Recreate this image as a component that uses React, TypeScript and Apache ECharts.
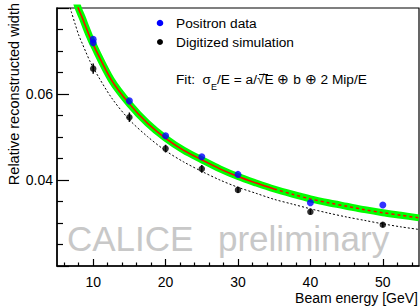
import React, { useEffect, useRef } from "react";
import * as echarts from "echarts";

// Positron data (blue)
const positronE = [10, 10, 15, 20, 25, 30, 40, 50];
const positronW = [0.0727, 0.0719, 0.0584, 0.0503, 0.0454, 0.0413, 0.0347, 0.0342];

// Digitized simulation (black) with errors
const simE = [10, 15, 20, 25, 30, 40, 50];
const simW = [0.0659, 0.0546, 0.0473, 0.0426, 0.0377, 0.0326, 0.0296];
const simErr = [0.0012, 0.0011, 0.0009, 0.0009, 0.0007, 0.0006, 0.0006];

// Fit to positron data (red line, green band)
const fitE = [7.5, 8, 8.5, 9, 9.5, 10, 12.5, 15, 17.5, 20, 22.5, 25, 27.5, 30, 32.5, 35, 37.5, 40, 42.5, 45, 47.5, 50, 52.5, 55];
const fitW = [0.0822, 0.0797, 0.0777, 0.0755, 0.0734, 0.0715, 0.0633, 0.0577, 0.0532, 0.0497, 0.0469, 0.0447, 0.0426, 0.0408, 0.0393, 0.0379, 0.0367, 0.0356, 0.0347, 0.0339, 0.0331, 0.0324, 0.0318, 0.0312];
const solidUntil = 35;

// Fit to simulation (black dashed)
const simFitE = [6.5, 7, 7.5, 8, 8.5, 9, 9.5, 10, 12.5, 15, 17.5, 20, 22.5, 25, 27.5, 30, 32.5, 35, 37.5, 40, 42.5, 45, 47.5, 50, 52.5, 55];
const simFitW = [0.0819, 0.079, 0.0763, 0.0737, 0.0717, 0.0697, 0.0678, 0.0661, 0.0592, 0.054, 0.0501, 0.0468, 0.0442, 0.042, 0.04, 0.0383, 0.0369, 0.0355, 0.0344, 0.0333, 0.0323, 0.0314, 0.0306, 0.0298, 0.0291, 0.0285];

// Axis ticks
const xMajor = [10, 20, 30, 40, 50];
const xMinor = [6, 8, 12, 14, 16, 18, 22, 24, 26, 28, 32, 34, 36, 38, 42, 44, 46, 48, 52, 54];
const yLabels = [0.04, 0.06];

const FONT = "Liberation Sans";

export default function App() {
  const ref = useRef<HTMLDivElement>(null);
  useEffect(() => {
    if (!ref.current) return;
    const chart = echarts.init(ref.current, undefined, { renderer: "svg" });
    const fitPairs = fitE.map((e, i) => [e, fitW[i]]);
    const solid = fitPairs.filter((p) => p[0] <= solidUntil);
    const dashed = fitPairs.filter((p) => p[0] >= solidUntil);
    const option: any = {
      animation: false,
      backgroundColor: "#fff",
      textStyle: { fontFamily: FONT },
      grid: {
        left: 57,
        top: 8,
        right: 1,
        bottom: 40,
        show: true,
        borderColor: "#000",
        borderWidth: 1.2,
        backgroundColor: "transparent",
      },
      xAxis: [
        {
          type: "value",
          min: 5,
          max: 55,
          position: "bottom",
          axisLine: { show: true, lineStyle: { color: "#000", width: 1.5 } },
          axisTick: { show: true, inside: true, length: 7, customValues: xMajor, lineStyle: { color: "#000", width: 1.2 } },
          axisLabel: { show: true, customValues: xMajor, fontSize: 14, color: "#000", margin: 9, fontFamily: FONT },
          splitLine: { show: false },
        },
        {
          type: "value",
          min: 5,
          max: 55,
          position: "bottom",
          axisLine: { show: false },
          axisTick: { show: true, inside: true, length: 3.5, customValues: xMinor, lineStyle: { color: "#000", width: 1.2 } },
          axisLabel: { show: false },
          splitLine: { show: false },
        },
      ],
      yAxis: [
        {
          type: "value",
          min: 0.02,
          max: 0.08,
          interval: 0.02,
          axisLine: { show: true, lineStyle: { color: "#000", width: 1.5 } },
          axisTick: { show: true, inside: true, length: 12, lineStyle: { color: "#000", width: 1.2 } },
          minorTick: { show: true, splitNumber: 4, length: 6, lineStyle: { color: "#000", width: 1.2 } },
          axisLabel: {
            show: true,
            fontSize: 14,
            color: "#000",
            margin: 4,
            fontFamily: FONT,
            formatter: (v: number) => (yLabels.some((l) => Math.abs(l - v) < 1e-9) ? v.toFixed(2) : ""),
          },
          splitLine: { show: false },
          minorSplitLine: { show: false },
        },
      ],
      graphic: [
        { type: "text", x: 67, y: 238, style: { text: "CALICE", fontSize: 35, fontFamily: FONT, fill: "#c8c8c8", verticalAlign: "middle" } },
        { type: "text", x: 218, y: 238, style: { text: "preliminary", fontSize: 35, fontFamily: FONT, fill: "#c8c8c8", verticalAlign: "middle" } },
        {
          type: "text",
          x: 14,
          y: 3,
          rotation: Math.PI / 2,
          style: { text: "Relative reconstructed width", fontSize: 14.5, fontFamily: FONT, fill: "#000", align: "right", verticalAlign: "middle" },
        },
        {
          type: "text",
          x: 418,
          y: 298,
          style: { text: "Beam energy [GeV]", fontSize: 14, fontFamily: FONT, fill: "#000", align: "right", verticalAlign: "middle" },
        },
        { type: "circle", shape: { cx: 160, cy: 23, r: 3.3 }, style: { fill: "#0000ff" }, z: 10 },
        { type: "text", x: 176, y: 23, style: { text: "Positron data", fontSize: 13.7, fontFamily: FONT, fill: "#000", verticalAlign: "middle" }, z: 10 },
        { type: "circle", shape: { cx: 160, cy: 42, r: 3 }, style: { fill: "#000" }, z: 10 },
        { type: "text", x: 176, y: 42, style: { text: "Digitized simulation", fontSize: 13.7, fontFamily: FONT, fill: "#000", verticalAlign: "middle" }, z: 10 },
        {
          type: "text",
          x: 176,
          y: 72,
          z: 10,
          style: {
            text: "{n|Fit:  σ}{s|E}{n|/E = a/√E ⊕ b ⊕ 2 Mip/E}",
            fontFamily: FONT,
            fill: "#000",
            verticalAlign: "top",
            rich: {
              n: { fontSize: 13.7, lineHeight: 16, verticalAlign: "top", fontFamily: FONT },
              s: { fontSize: 9, lineHeight: 12, padding: [10, 0, 0, 0], verticalAlign: "top", fontFamily: FONT },
            },
          },
        },
        { type: "line", shape: { x1: 259, y1: 74.5, x2: 268, y2: 74.5 }, style: { stroke: "#000", lineWidth: 1 }, z: 10 },
      ],
      series: [
        {
          type: "line",
          name: "band",
          data: fitPairs,
          smooth: 0.3,
          symbol: "none",
          clip: true,
          lineStyle: { color: "#00ff00", width: 7 },
          z: 2,
        },
        {
          type: "line",
          name: "fit solid",
          data: solid,
          smooth: 0.3,
          symbol: "none",
          clip: true,
          lineStyle: { color: "#ff0000", width: 1.5 },
          z: 3,
        },
        {
          type: "line",
          name: "fit dashed",
          data: dashed,
          smooth: 0.3,
          symbol: "none",
          clip: true,
          lineStyle: { color: "#ff0000", width: 1.5, type: [3, 3] },
          z: 3,
        },
        {
          type: "line",
          name: "sim fit",
          data: simFitE.map((e, i) => [e, simFitW[i]]),
          smooth: 0.3,
          symbol: "none",
          clip: true,
          lineStyle: { color: "#000", width: 1, type: [2, 2] },
          z: 3,
        },
        {
          type: "custom",
          name: "sim errors",
          data: simE.map((e, i) => [e, simW[i], simErr[i]]),
          encode: { x: 0, y: 1 },
          renderItem: (params: any, api: any) => {
            const x = api.value(0);
            const y = api.value(1);
            const err = api.value(2);
            const t = api.coord([x, y + err]);
            const b = api.coord([x, y - err]);
            return {
              type: "line",
              shape: { x1: t[0], y1: t[1], x2: b[0], y2: b[1] },
              style: { stroke: "#000", lineWidth: 1.5 },
            };
          },
          z: 4,
        },
        {
          type: "scatter",
          name: "Digitized simulation",
          data: simE.map((e, i) => [e, simW[i]]),
          symbol: "circle",
          symbolSize: 6.5,
          itemStyle: { color: "#000" },
          z: 5,
        },
        {
          type: "scatter",
          name: "Positron data",
          data: positronE.map((e, i) => [e, positronW[i]]),
          symbol: "circle",
          symbolSize: 7,
          itemStyle: { color: "#0000ff" },
          z: 6,
        },
      ],
    };
    chart.setOption(option);
    return () => chart.dispose();
  }, []);
  return <div ref={ref} style={{ position: "absolute", left: 0, top: 0, width: 420, height: 306 }} />;
}
